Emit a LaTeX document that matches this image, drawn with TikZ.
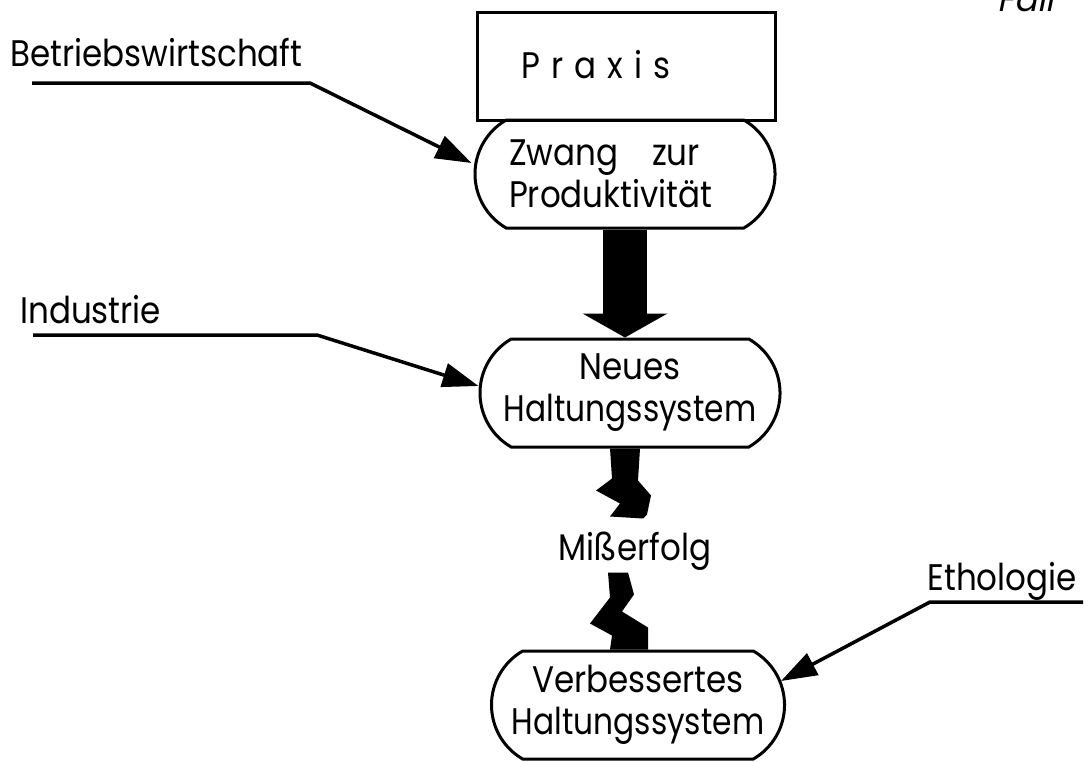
\documentclass[tikz,border=0pt]{standalone}
\usepackage{fontspec}
\setmainfont{Poppins}[FakeStretch=0.88]
\newfontfamily\praxisfont{Poppins}[FakeStretch=0.88,LetterSpace=30]
\newfontfamily\fallfont{Poppins}[FakeSlant=0.2]
\usetikzlibrary{shapes.misc,arrows.meta,calc}
\newcommand{\narrow}[1]{\scalebox{0.96}[1]{#1}}
\begin{document}
\begin{tikzpicture}[x=1pt,y=-1pt,
  every node/.style={font=\fontsize{37}{42}\selectfont, inner sep=0pt},
  pill/.style={draw, line width=3pt, rounded rectangle, rounded rectangle arc length=120, minimum height=108pt},
  box/.style={draw, line width=3pt, rectangle},
  feed/.style={line width=3.5pt, -{Triangle[length=36pt,width=24pt]}},
  lbl/.style={anchor=base west},
]
\useasboundingbox (0,0) rectangle (1089,761);
\clip (0,0) rectangle (1089,761);

\node[box, minimum width=298pt, minimum height=108pt] (praxis) at (626,66) {};
\node[anchor=base west, font=\praxisfont\fontsize{37}{42}\selectfont] (praxislabel) at (521,78) {Praxis};

\node[pill, minimum width=300pt, text width=232pt, align=left] (p1) at (625,174) {Zwang\hskip34pt zur\\Produktivität};
\node[pill, minimum width=300pt, align=center] (p2) at (630,393) {Neues\\\narrow{Haltungssystem}};
\node[pill, minimum width=293pt, align=center] (p3) at (638,705) {Verbessertes\\\narrow{Haltungssystem}};

\draw[line width=44pt, -{Triangle[length=24pt,width=84pt]}] (p1.south) -- (p1.south |- p2.north);

\fill[shift={(p2.south)}] (-20,0) -- (10,0) -- (8,32) -- (21,47) -- (17,66) -- (13,70) -- (-20,68) -- (-10,55) -- (-34,42) -- (-18,30) -- cycle;
\node[anchor=base] (miss) at (635,560) {Mißerfolg};
\fill[shift={(p3.north)}] (-30,-77) -- (-10,-77) -- (-4,-55) -- (-16,-38) -- (10,-22) -- (10,0) -- (-28,0) -- (-26,-14) -- (-48,-26) -- (-28,-52) -- cycle;

\node[lbl] (bw) at (10,66) {Betriebswirtschaft};
\node[lbl] (ind) at (20,323) {Industrie};
\node[anchor=base east] (eth) at (1077,590) {Ethologie};
\node[anchor=base west, font=\fallfont\fontsize{34}{40}\selectfont] (fall) at (997,11) {Fall};

\coordinate (bw1) at (32,83);
\coordinate (bw2) at (310,83);
\draw[feed] (bw1) -- (bw2) -- ($(p1.west)+(-2,-11)$);
\coordinate (ind1) at (33,335);
\coordinate (ind2) at (317,335);
\draw[feed] (ind1) -- (ind2) -- ($(p2.west)+(0,-7)$);
\coordinate (eth1) at (1083,602);
\coordinate (eth2) at (930,602);
\draw[feed] (eth1) -- (eth2) -- ($(p3.east)+(-5,-24)$);
\end{tikzpicture}
\end{document}
